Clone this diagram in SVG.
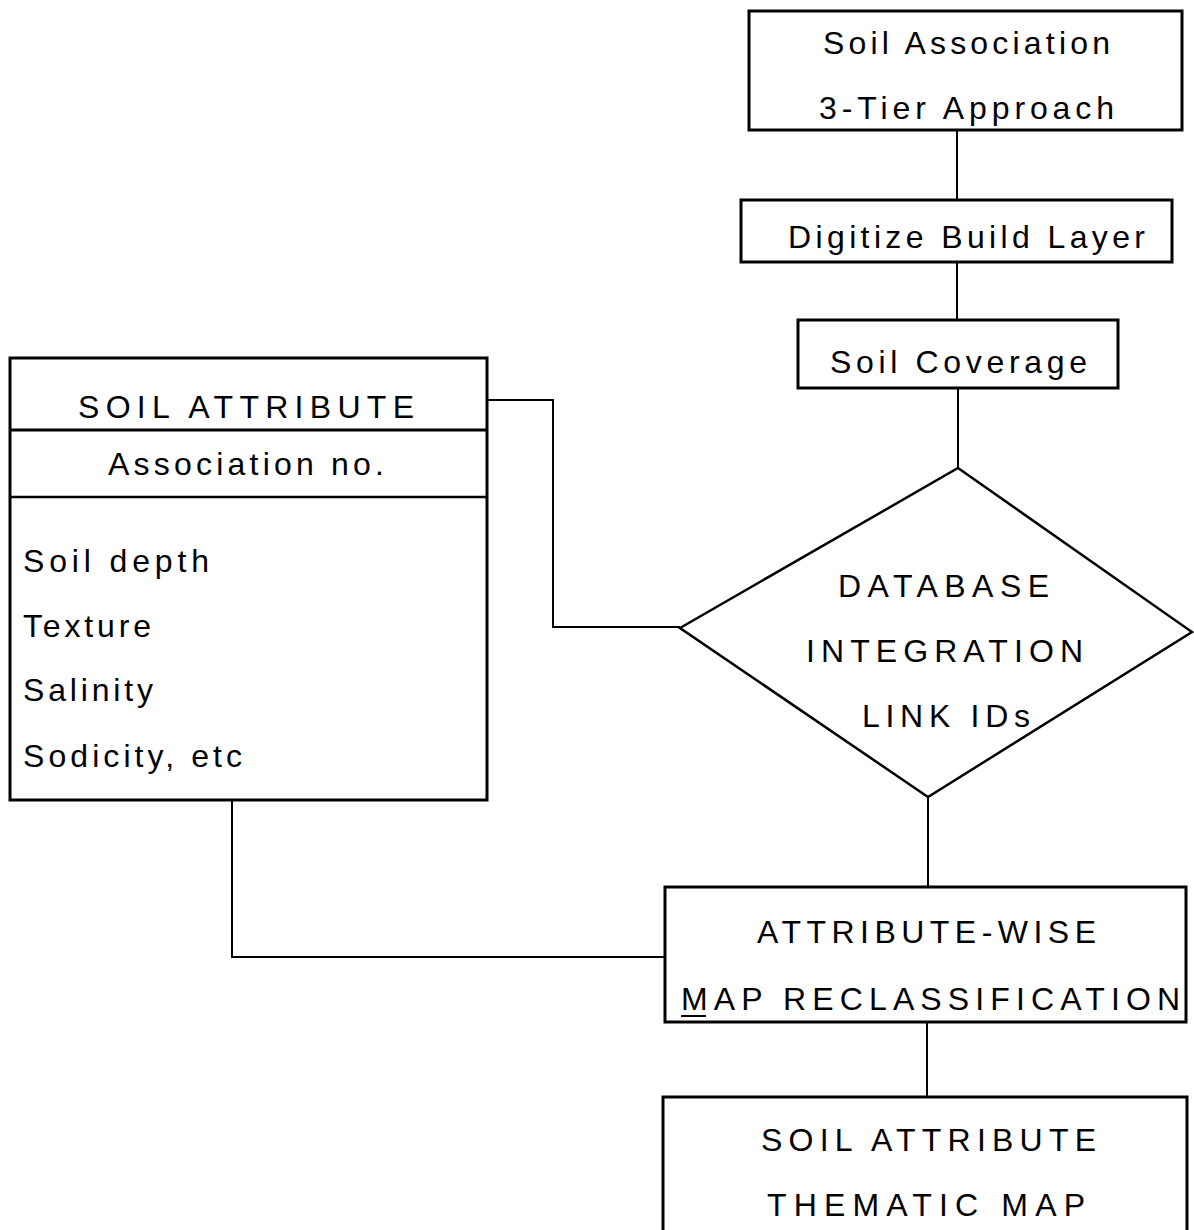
<svg xmlns="http://www.w3.org/2000/svg" width="1194" height="1230" viewBox="0 0 1194 1230">
<style>
.box{fill:#fff;stroke:#000;stroke-width:3}
.conn{fill:none;stroke:#000;stroke-width:2}
text{font-family:"Liberation Sans",Arial,sans-serif;font-size:32px;fill:#000}
</style>
<rect width="1194" height="1230" fill="#fff"/>
<g id="connectors">
<path class="conn" d="M957,130 V200"/>
<path class="conn" d="M957,262 V320"/>
<path class="conn" d="M958,388 V468"/>
<path class="conn" d="M487,400 H553 V627 H680"/>
<path class="conn" d="M928,797 V887"/>
<path class="conn" d="M232,800 V957 H665"/>
<path class="conn" d="M927,1022 V1097"/>
</g>
<g id="soil-association">
<rect class="box" x="749" y="11" width="433" height="119"/>
<text x="823" y="54" textLength="287" lengthAdjust="spacing">Soil Association</text>
<text x="819" y="119" textLength="295" lengthAdjust="spacing">3-Tier Approach</text>
</g>
<g id="digitize">
<rect class="box" x="741" y="200" width="431" height="62"/>
<text x="788" y="248" textLength="357" lengthAdjust="spacing">Digitize Build Layer</text>
</g>
<g id="soil-coverage">
<rect class="box" x="798" y="320" width="320" height="68"/>
<text x="830" y="373" textLength="257" lengthAdjust="spacing">Soil Coverage</text>
</g>
<g id="soil-attribute-table">
<rect class="box" x="10" y="358" width="477" height="442"/>
<line x1="10" y1="430" x2="487" y2="430" stroke="#000" stroke-width="3"/>
<line x1="10" y1="497" x2="487" y2="497" stroke="#000" stroke-width="2.5"/>
<text x="78" y="418" textLength="336" lengthAdjust="spacing">SOIL ATTRIBUTE</text>
<text x="108" y="475" textLength="276" lengthAdjust="spacing">Association no.</text>
<text x="23" y="572" textLength="186" lengthAdjust="spacing">Soil depth</text>
<text x="23" y="637" textLength="128" lengthAdjust="spacing">Texture</text>
<text x="23" y="701" textLength="130" lengthAdjust="spacing">Salinity</text>
<text x="23" y="767" textLength="219" lengthAdjust="spacing">Sodicity, etc</text>
</g>
<g id="database-integration">
<polygon points="958,468 1192,632 928,797 680,628" fill="#fff" stroke="#000" stroke-width="2.5"/>
<text x="838" y="597" textLength="211" lengthAdjust="spacing">DATABASE</text>
<text x="806" y="662" textLength="277" lengthAdjust="spacing">INTEGRATION</text>
<text x="862" y="727" textLength="168" lengthAdjust="spacing">LINK IDs</text>
</g>
<g id="reclassification">
<rect class="box" x="665" y="887" width="521" height="135"/>
<text x="757" y="943" textLength="339" lengthAdjust="spacing">ATTRIBUTE-WISE</text>
<text x="681" y="1010" textLength="499" lengthAdjust="spacing">MAP RECLASSIFICATION</text>
<line x1="681" y1="1016" x2="706" y2="1016" stroke="#000" stroke-width="2"/>
</g>
<g id="thematic-map">
<rect class="box" x="663" y="1097" width="524" height="140"/>
<text x="761" y="1151" textLength="335" lengthAdjust="spacing">SOIL ATTRIBUTE</text>
<text x="767" y="1216" textLength="318" lengthAdjust="spacing">THEMATIC MAP</text>
</g>
</svg>
